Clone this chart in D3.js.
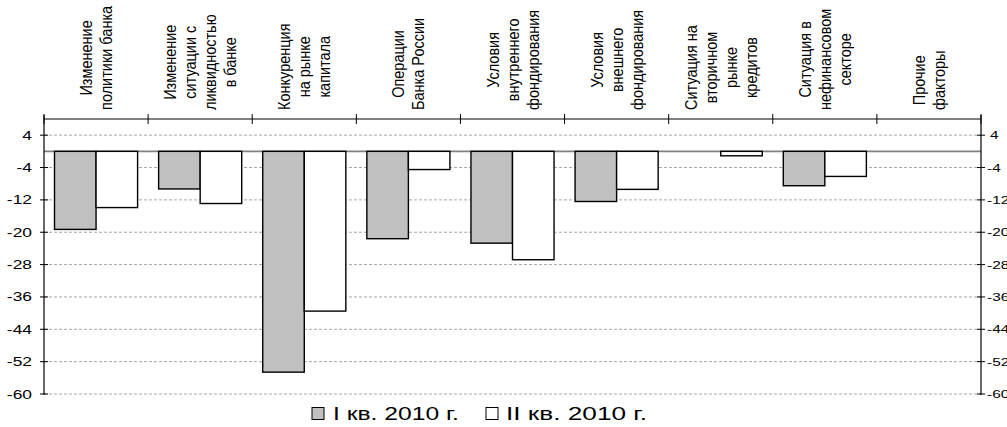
<!DOCTYPE html>
<html>
<head>
<meta charset="utf-8">
<script src="https://cdn.jsdelivr.net/npm/d3@7"></script>
<style>
  html, body { margin: 0; padding: 0; background: #fff; }
  svg { display: block; font-family: "Liberation Sans", Arial, sans-serif; }
</style>
</head>
<body>
<svg id="chart" width="1007" height="427"></svg>
<script>
// ---- data ----
const categories = [
  ["Изменение", "политики банка"],
  ["Изменение", "ситуации с", "ликвидностью", "в банке"],
  ["Конкуренция", "на рынке", "капитала"],
  ["Операции", "Банка России"],
  ["Условия", "внутреннего", "фондирования"],
  ["Условия", "внешнего", "фондирования"],
  ["Ситуация на", "вторичном", "рынке", "кредитов"],
  ["Ситуация в", "нефинансовом", "секторе"],
  ["Прочие", "факторы"]
];
const seriesNames = ["I кв. 2010 г.", "II кв. 2010 г."];
const q1Values = [-19.3, -9.3, -54.6, -21.6, -22.7, -12.4, 0, -8.5, 0];
const q2Values = [-13.9, -12.9, -39.5, -4.5, -26.8, -9.4, -1.1, -6.2, 0];
const yTicks = [4, -4, -12, -20, -28, -36, -44, -52, -60];
const yDomain = [-60, 8];

(function () {
// ---- layout ----
const svg = d3.select("#chart");
const pL = 44, pR = 981, pT = 119, pB = 394;
const fills = ["#c0c0c0", "#ffffff"];

const catIdx = categories.map((_, i) => i);
const x0 = d3.scaleBand().domain(catIdx).range([pL, pR]).padding(0);
const x1 = d3.scaleBand().domain([0, 1]).range([0, x0.bandwidth()]).paddingInner(0).paddingOuter(0.253);
const y = d3.scaleLinear().domain(yDomain).range([pB, pT]);

// gridlines
svg.append("g").selectAll("line").data(yTicks).join("line")
  .attr("x1", pL).attr("x2", pR)
  .attr("y1", d => y(d)).attr("y2", d => y(d))
  .attr("stroke", "#a8a8a8").attr("stroke-width", 1)
  .attr("stroke-dasharray", "3,2");

// zero line
svg.append("line")
  .attr("x1", pL).attr("x2", pR)
  .attr("y1", y(0)).attr("y2", y(0))
  .attr("stroke", "#808080").attr("stroke-width", 1.6);

// bars
const series = [q1Values, q2Values];
series.forEach((vals, s) => {
  svg.append("g").selectAll("rect").data(vals.map((v, i) => ({v, i})).filter(d => d.v !== 0)).join("rect")
    .attr("x", d => x0(d.i) + x1(s))
    .attr("width", x1.bandwidth())
    .attr("y", d => y(Math.max(0, d.v)))
    .attr("height", d => Math.abs(y(d.v) - y(0)))
    .attr("fill", fills[s])
    .attr("stroke", "#000").attr("stroke-width", 1.4);
});

// left axis
svg.append("line").attr("x1", pL).attr("x2", pL).attr("y1", pT - 4).attr("y2", pB + 1)
  .attr("stroke", "#000").attr("stroke-width", 1.2);
svg.append("g").selectAll("line").data(yTicks).join("line")
  .attr("x1", pL - 4).attr("x2", pL + 4)
  .attr("y1", d => y(d)).attr("y2", d => y(d))
  .attr("stroke", "#000").attr("stroke-width", 1);
svg.append("g").selectAll("text").data(yTicks).join("text")
  .attr("transform", d => `translate(32,${y(d) + 4.5}) scale(1.45,1)`)
  .attr("text-anchor", "end")
  .attr("font-size", 12)
  .text(d => d);

// right axis
svg.append("line").attr("x1", pR).attr("x2", pR).attr("y1", pT - 4).attr("y2", pB + 1)
  .attr("stroke", "#000").attr("stroke-width", 1.2);
svg.append("g").selectAll("line").data(yTicks).join("line")
  .attr("x1", pR - 4).attr("x2", pR + 4)
  .attr("y1", d => y(d)).attr("y2", d => y(d))
  .attr("stroke", "#000").attr("stroke-width", 1);
svg.append("g").selectAll("text").data(yTicks).join("text")
  .attr("transform", d => `translate(${d < 0 ? 987 : 990},${y(d) + 4}) scale(1.4,1)`)
  .attr("text-anchor", "start")
  .attr("font-size", 11)
  .text(d => d);

// top category axis
svg.append("line").attr("x1", pL).attr("x2", pR).attr("y1", pT).attr("y2", pT)
  .attr("stroke", "#000").attr("stroke-width", 1.2);
const bounds = catIdx.map(i => x0(i)).concat([pR]);
svg.append("g").selectAll("line").data(bounds).join("line")
  .attr("x1", d => d).attr("x2", d => d)
  .attr("y1", pT - 5).attr("y2", pT + 5)
  .attr("stroke", "#000").attr("stroke-width", 1);

// category labels (rotated)
const lineGap = 20, labelBottom = 110;
categories.forEach((lines, i) => {
  const cx = x0(i) + x0.bandwidth() / 2;
  const g = svg.append("g");
  const texts = lines.map((ln, j) => {
    const bx = cx + (j - (lines.length - 1) / 2) * lineGap + 6;
    return g.append("text")
      .attr("text-anchor", "middle")
      .attr("font-size", 14.5)
      .attr("data-bx", bx)
      .text(ln);
  });
  const maxLen = d3.max(texts, t => t.node().getComputedTextLength());
  const cy = labelBottom - maxLen / 2;
  texts.forEach(t => {
    t.attr("transform", `translate(${+t.attr("data-bx")},${cy}) scale(1.2,1) rotate(-90)`);
  });
});

// legend
const legend = svg.append("g");
const legendItems = [
  {sx: 312, tx: 333, w: 126, name: seriesNames[0], fill: fills[0]},
  {sx: 486, tx: 506, w: 141, name: seriesNames[1], fill: fills[1]}
];
legendItems.forEach(it => {
  legend.append("rect").attr("x", it.sx).attr("y", 407.5).attr("width", 12).attr("height", 12)
    .attr("fill", it.fill).attr("stroke", "#000").attr("stroke-width", 1);
  const t = legend.append("text")
    .attr("font-size", 18)
    .text(it.name);
  const sc = it.w / t.node().getComputedTextLength();
  t.attr("transform", `translate(${it.tx},420) scale(${sc},1)`);
});
})();
</script>
</body>
</html>
